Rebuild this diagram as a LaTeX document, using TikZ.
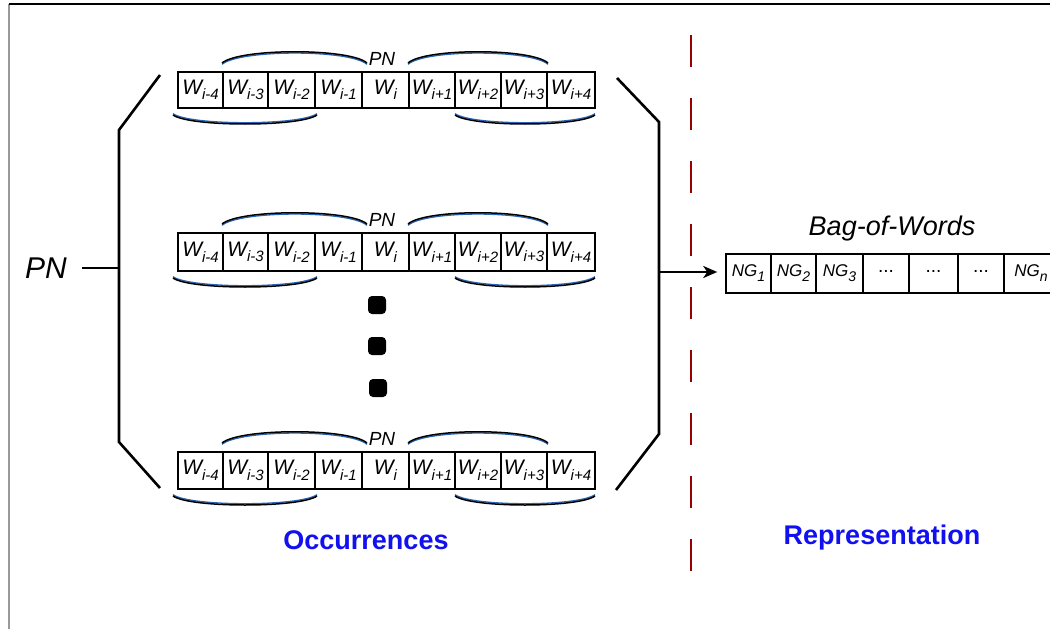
\documentclass[tikz,border=0pt]{standalone}
\usepackage{fontspec}
\setmainfont{Liberation Sans}
\usetikzlibrary{arrows.meta}
\definecolor{dred}{RGB}{153,0,0}
\definecolor{lblue}{RGB}{16,16,240}
\definecolor{arcblue}{RGB}{40,100,180}
\newcommand{\wsub}[2]{\fontsize{21}{24}\selectfont\itshape #1\raisebox{-0.5ex}{\fontsize{15}{17}\selectfont #2}}
\newcommand{\ngsub}[1]{\fontsize{17}{19}\selectfont\itshape NG\raisebox{-0.55ex}{\fontsize{14}{16}\selectfont #1}}
\newcommand{\dts}{\fontsize{19}{20}\selectfont\raisebox{0.35ex}{...}}
\begin{document}
\begin{tikzpicture}[x=1pt,y=-1pt,
  cell/.style={draw=black, line width=1.5pt, inner sep=0pt, rectangle},
  pnsmall/.style={inner sep=0pt, font=\fontsize{19}{21}\selectfont\itshape},
  arcblk/.style={draw=black, line width=1.5pt},
  arcblu/.style={draw=arcblue, line width=1.3pt},
  brk/.style={draw=black, line width=2.6pt},
  dotsq/.style={fill=black, rectangle, rounded corners=4pt, minimum size=18pt, inner sep=0pt},
  lbl/.style={text=lblue, font=\fontsize{27}{30}\selectfont\bfseries},
]
\useasboundingbox (0,0) rectangle (1050,629);
\fill[white] (0,0) rectangle (1050,629);
% frame
\draw[gray!80, line width=2pt] (9,4) -- (9,640);
\draw[black, line width=1.2pt] (9,4) -- (1060,4);

% occurrence rows
\foreach \T/\B/\r in {72/108/a,233/271/b,452/489/c}{
  \foreach \xa/\xb/\s [count=\j] in {178/223/{i-4},223/268/{i-3},268/315/{i-2},315/362/{i-1},362/409/{i},409/455/{i+1},455/501/{i+2},501/547/{i+3},547/595/{i+4}}{
    \node[cell, minimum width={(\xb-\xa)*1pt}, minimum height={(\B-\T)*1pt}] (\r\j) at ({(\xa+\xb)/2},{(\T+\B)/2}) {\wsub{W}{\s}};
  }
  \node[pnsmall] (pn\r) at (382,\T-13) {PN};
  % upper arcs
  \draw[arcblu] (222,\T-7.7) .. controls (240,\T-22.7) and (350,\T-22.7) .. (367,\T-7.7);
  \draw[arcblk] (222,\T-9) .. controls (240,\T-24) and (350,\T-24) .. (367,\T-9);
  \draw[arcblu] (408,\T-7.7) .. controls (425,\T-22.7) and (531,\T-22.7) .. (548,\T-7.7);
  \draw[arcblk] (408,\T-9) .. controls (425,\T-24) and (531,\T-24) .. (548,\T-9);
  % lower arcs
  \draw[arcblu] (173,\B+5.7) .. controls (190,\B+17.7) and (300,\B+17.7) .. (317,\B+5.7);
  \draw[arcblk] (173,\B+7) .. controls (190,\B+19) and (300,\B+19) .. (317,\B+7);
  \draw[arcblu] (455,\B+5.7) .. controls (472,\B+17.7) and (578,\B+17.7) .. (595,\B+5.7);
  \draw[arcblk] (455,\B+7) .. controls (472,\B+19) and (578,\B+19) .. (595,\B+7);
}

% vertical dots
\node[dotsq] (d1) at (377,305) {};
\node[dotsq] (d2) at (377,346) {};
\node[dotsq] (d3) at (378,388) {};

% left bracket and PN
\node[inner sep=0pt, font=\fontsize{30}{32}\selectfont\itshape] (pnbig) at (46,268) {PN};
\coordinate (ls) at (82,268);
\coordinate (lj) at (119,268);
\draw[brk] (160,75) -- (119,130) -- (119,442) -- (160,488);
\draw[brk] (ls) -- (lj);

% right bracket
\draw[brk] (617,78) -- (659,122) -- (659,434) -- (616,490);
\coordinate (rb) at (659,272);

% dashed separator
\draw[dred, line width=2pt, dash pattern=on 32pt off 31pt] (691,35) -- (691,572);

% bag of words
\foreach \xa/\xb/\s [count=\j] in {726/771/{\ngsub{1}},771/816/{\ngsub{2}},816/863/{\ngsub{3}},863/909/{\dts},909/958/{\dts},958/1004/{\dts},1004/1058/{\ngsub{n}}}{
  \node[cell, minimum width={(\xb-\xa)*1pt}, minimum height=39pt] (g\j) at ({(\xa+\xb)/2},273.5) {\s};
}
\node[font=\fontsize{27}{29}\selectfont\itshape] (bow) at (892,229) {Bag-of-Words};
\draw[black, line width=2.6pt, -{Stealth[length=14pt,width=12pt,inset=4pt]}, shorten >=8pt] (rb) -- (rb -| g1.west);

% labels
\node[lbl] (occ) at (366,540) {Occurrences};
\node[lbl] (rep) at (882,538) {Representation};
\end{tikzpicture}
\end{document}
